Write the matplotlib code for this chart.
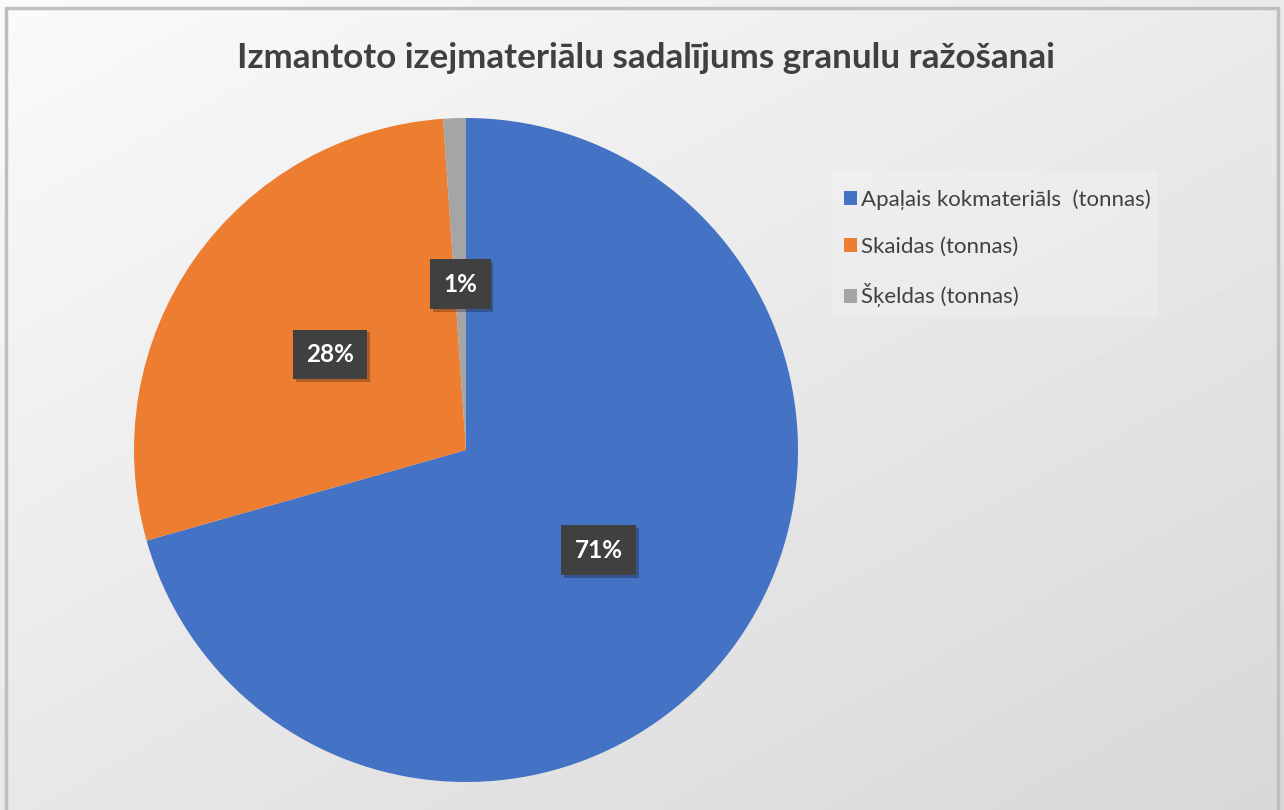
import numpy as np
import matplotlib.pyplot as plt
import matplotlib.patheffects as pe
from matplotlib.patches import Rectangle

# dati
kategorijas = ['Apaļais kokmateriāls  (tonnas)', 'Skaidas (tonnas)', 'Šķeldas (tonnas)']
vertibas = [70.6, 28.3, 1.1]
krasas = ['#4472c4', '#ed7d31', '#a5a5a5']
virsraksts = 'Izmantoto izejmateriālu sadalījums granulu ražošanai'

plt.rcParams['font.family'] = ['Lato', 'DejaVu Sans']

fig = plt.figure(figsize=(12.84, 8.10), dpi=100)

# fons ar gradientu
bg = fig.add_axes([0, 0, 1, 1], zorder=0)
gx, gy = np.meshgrid(np.linspace(0, 1, 300), np.linspace(0, 1, 200))
grad = 0.98 - 0.135 * np.clip((gx * 0.6 + gy * 0.7), 0, 1.3) / 1.3
bg.imshow(grad, cmap='gray', vmin=0, vmax=1, aspect='auto', extent=[0, 1, 0, 1], origin='upper')
bg.add_patch(Rectangle((6 / 1284, -0.01), 1272 / 1284, 1 - 8 / 810 + 0.01,
                       fill=False, edgecolor='#bfbfbf', linewidth=2.5))
bg.set_xlim(0, 1)
bg.set_ylim(0, 1)
bg.axis('off')

# legendas fons
bg.add_patch(Rectangle((832 / 1284, 1 - 318 / 810), 326 / 1284, 148 / 810,
                       facecolor='white', alpha=0.18, edgecolor='none'))

ax = fig.add_axes([134 / 1284, 28 / 810, 664 / 1284, 664 / 810], zorder=1)
wedges, texts, autotexts = ax.pie(
    vertibas, colors=krasas, startangle=90, counterclock=False,
    autopct='%1.0f%%', pctdistance=0.5, radius=1,
    wedgeprops=dict(linewidth=0),
    textprops=dict(color='white', fontsize=17.5, fontweight='bold'))
ax.set_xlim(-1, 1)
ax.set_ylim(-1, 1)
ax.set_aspect('equal')

for t in autotexts:
    t.set_bbox(dict(boxstyle='square,pad=0.55', facecolor='#404040', edgecolor='none'))
    t.get_bbox_patch().set_path_effects([
        pe.SimplePatchShadow(offset=(2, -2), shadow_rgbFace='black', alpha=0.25), pe.Normal()])

fig.text(646 / 1284, 1 - 58 / 810, virsraksts, ha='center', va='center',
         fontsize=25.2, fontweight='bold', color='#404040')

leg = fig.legend(wedges, kategorijas, loc='upper left', bbox_to_anchor=(828 / 1284, 1 - 174 / 810),
                 frameon=False, fontsize=16, labelcolor='#404040',
                 handlelength=0.6, handleheight=0.6, handletextpad=0.2, labelspacing=1.2,
                 borderpad=0.2)

fig.savefig('out.png', dpi=100)
